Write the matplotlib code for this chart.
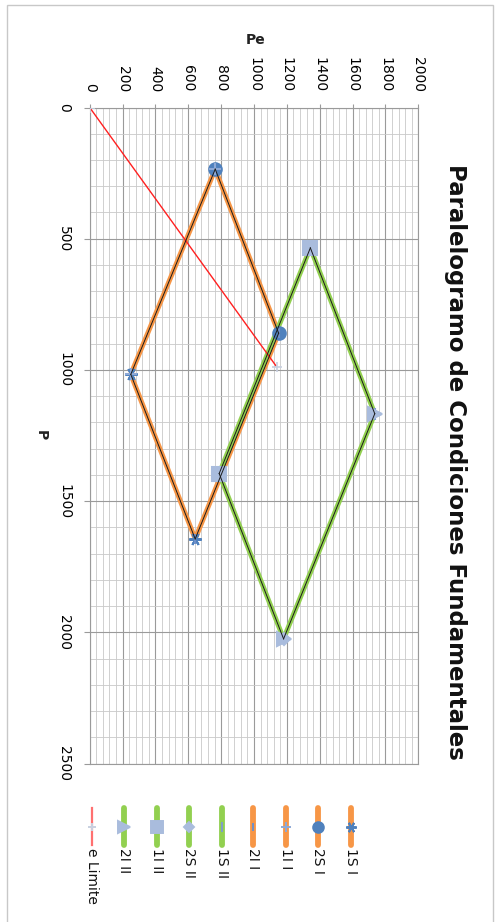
import matplotlib
matplotlib.use("Agg")
import matplotlib.pyplot as plt
from matplotlib.lines import Line2D
from matplotlib.patches import Rectangle
from matplotlib.ticker import MultipleLocator

# ---- data: each series is a segment (Pe, P) of a parallelogram side ----
pe_1S_I = [250, 642]
p_1S_I = [1017, 1644]
pe_2S_I = [764, 1150]
p_2S_I = [235, 860]
pe_1I_I = [764, 250]
p_1I_I = [235, 1017]
pe_2I_I = [642, 1150]
p_2I_I = [1644, 860]

pe_1S_II = [1343, 1735]
p_1S_II = [535, 1167]
pe_2S_II = [788, 1180]
p_2S_II = [1395, 2025]
pe_1I_II = [1343, 788]
p_1I_II = [535, 1395]
pe_2I_II = [1735, 1180]
p_2I_II = [1167, 2025]

pe_limite = [0, 1140]
p_limite = [0, 990]

series_names = ["1S I", "2S I", "1I I", "2I I",
                "1S II", "2S II", "1I II", "2I II", "e Limite"]
series_pe = [pe_1S_I, pe_2S_I, pe_1I_I, pe_2I_I,
             pe_1S_II, pe_2S_II, pe_1I_II, pe_2I_II, pe_limite]
series_p = [p_1S_I, p_2S_I, p_1I_I, p_2I_I,
            p_1S_II, p_2S_II, p_1I_II, p_2I_II, p_limite]

title = "Paralelogramo de Condiciones Fundamentales"

# ---- styles ----
ORANGE = "#F79646"
GREEN = "#92D050"
RED = "#FF2020"
BLUE = "#4F81BD"
LBLUE = "#A9BCDD"
styles = {
    "1S I": dict(color=ORANGE, marker=(6, 2, 90), mc=BLUE, ms=9),
    "2S I": dict(color=ORANGE, marker="o", mc=BLUE, ms=9),
    "1I I": dict(color=ORANGE, marker="+", mc="#8EA9D6", ms=9),
    "2I I": dict(color=ORANGE, marker="|", mc="#6F8FC8", ms=7),
    "1S II": dict(color=GREEN, marker="|", mc="#7F9CCB", ms=8),
    "2S II": dict(color=GREEN, marker="D", mc=LBLUE, ms=6),
    "1I II": dict(color=GREEN, marker="s", mc=LBLUE, ms=10),
    "2I II": dict(color=GREEN, marker=">", mc=LBLUE, ms=10),
    "e Limite": dict(color=RED, marker="+", mc="#C8D0E0", ms=7),
}

W, H = 495, 922
fig = plt.figure(figsize=(W / 100, H / 100), dpi=100)
fig.patch.set_facecolor("white")


def fx(x):
    return x / W


def fy(y):
    return 1 - y / H


# outer chart frame
fig.add_artist(Rectangle((fx(7), fy(940)), fx(493) - fx(7), fy(5) - fy(940),
                         transform=fig.transFigure, fill=False,
                         edgecolor="#C8C8C8", lw=1.0))

left, right, top, bottom = 89.7, 418.3, 107.5, 763.5
ax = fig.add_axes([fx(left), fy(bottom), fx(right) - fx(left), fy(top) - fy(bottom)])

ax.set_xlim(0, 2000)
ax.set_ylim(2500, 0)
ax.xaxis.tick_top()
ax.xaxis.set_major_locator(MultipleLocator(200))
ax.xaxis.set_minor_locator(MultipleLocator(40))
ax.yaxis.set_major_locator(MultipleLocator(500))
ax.yaxis.set_minor_locator(MultipleLocator(100))

MAJ = "#9A9A9A"
MIN = "#C9C9C9"
ax.grid(which="major", color=MAJ, lw=0.8)
ax.grid(which="minor", color=MIN, lw=0.6)
ax.set_axisbelow(True)
for s in ax.spines.values():
    s.set_color(MAJ)
    s.set_linewidth(0.8)

ax.tick_params(which="minor", length=0)
ax.tick_params(axis="x", which="major", length=3, color=MAJ, width=0.8,
               labelsize=10, pad=8.3, labelrotation=-90)
ax.tick_params(axis="y", which="major", length=4, color=MAJ, width=0.8,
               labelsize=10, pad=9.5, labelrotation=-90)
for lab in ax.get_xticklabels():
    lab.set_ha("center")
    lab.set_va("bottom")
for lab in ax.get_yticklabels():
    lab.set_ha("right")
    lab.set_va("center")

# series lines with markers
for name, pe, p in zip(series_names, series_pe, series_p):
    st = styles[name]
    if name == "e Limite":
        ax.plot(pe, p, color=st["color"], lw=1.0, zorder=3,
                marker=st["marker"], ms=st["ms"], mec=st["mc"], mfc=st["mc"], mew=1.2)
    else:
        ax.plot(pe, p, color=st["color"], lw=3.6, zorder=2,
                solid_capstyle="round")
        ax.plot(pe, p, ls="none", marker=st["marker"], ms=st["ms"],
                mfc=st["mc"], mec=st["mc"], mew=1.5, zorder=4)

# thin dark centre lines over the parallelogram sides
for name, pe, p in zip(series_names, series_pe, series_p):
    if name != "e Limite":
        ax.plot(pe, p, color="#1A1A1A", lw=0.7, zorder=5)

# axis titles
fig.text(fx(256), fy(40), "Pe", ha="center", va="center",
         fontsize=10, fontweight="bold", color="#222222")
fig.text(fx(41), fy(435), "P", ha="center", va="center", rotation=-90,
         fontsize=10, fontweight="bold", color="#222222")

# chart title
fig.text(fx(455), fy(462), title, ha="center", va="center", rotation=-90,
         fontsize=16.5, fontweight="bold", color="#111111")

# legend (entries laid out left to right, reversed series order)
leg_x = [92.3, 124.3, 156.7, 189, 221.7, 253.3, 285.7, 318.3, 351]
for x, name in zip(leg_x, series_names[::-1]):
    st = styles[name]
    if name == "e Limite":
        fig.add_artist(Line2D([fx(x), fx(x)], [fy(808), fy(845)],
                              transform=fig.transFigure, color="#FF7070", lw=1.6))
    else:
        fig.add_artist(Line2D([fx(x), fx(x)], [fy(808), fy(845)],
                              transform=fig.transFigure, color=st["color"], lw=4.2,
                              solid_capstyle="round"))
    fig.add_artist(Line2D([fx(x)], [fy(827)], transform=fig.transFigure,
                          ls="none", marker=st["marker"], ms=st["ms"] * 0.85,
                          mfc=st["mc"], mec=st["mc"], mew=1.4))
    fig.text(fx(x), fy(848), name, rotation=-90, ha="center", va="top",
             fontsize=10, color="#111111")

fig.savefig("out.png", dpi=100)
